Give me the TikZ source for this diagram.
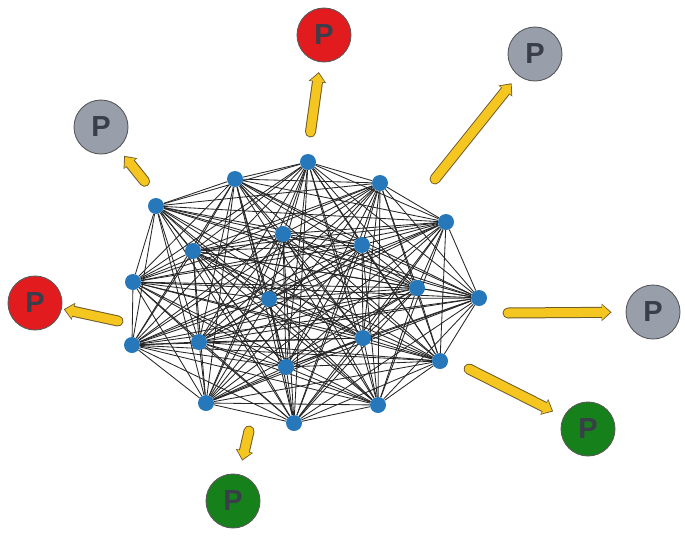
\documentclass[tikz,border=0pt]{standalone}
\usepackage{fontspec}
\setsansfont{Liberation Sans}
\usetikzlibrary{arrows.meta,backgrounds}
\definecolor{nodeblue}{RGB}{38,120,186}
\definecolor{pred}{RGB}{226,28,30}
\definecolor{pgray}{RGB}{152,158,170}
\definecolor{pgreen}{RGB}{22,128,26}
\definecolor{pletter}{RGB}{58,62,74}
\definecolor{arrowyellow}{RGB}{246,198,32}
\definecolor{arrowedge}{RGB}{110,92,40}

\begin{document}
\begin{tikzpicture}[x=1pt,y=-1pt]
  \useasboundingbox (0,0) rectangle (685,536);
  % the mesh of peers
  \begin{scope}[every node/.style={circle,fill=nodeblue,inner sep=0pt,minimum size=16pt}]
    \foreach \n/\x/\y in {1/308/162, 2/235/179, 3/380/183, 4/156/206, 5/446/222,
                          6/283/234, 7/193/251, 8/362/245, 9/133/282, 10/417/288,
                          11/479/298, 12/269/299, 13/132/345, 14/199/342, 15/363/338,
                          16/440/361, 17/286/367, 18/206/403, 19/378/405, 20/294/423}
      \node (n\n) at (\x,\y) {};
  \end{scope}
  \begin{scope}[on background layer]
    \foreach \i in {1,...,19} {
      \pgfmathtruncatemacro{\k}{\i+1}
      \foreach \j in {\k,...,20}
        \path (n\i) edge[draw=black!85, line width=0.85pt] (n\j);
    }
  \end{scope}
  % outside peers
  \begin{scope}[every node/.style={circle,draw=black!65,line width=0.9pt,minimum size=54pt,
      inner sep=0pt,text=pletter,font=\sffamily\bfseries\fontsize{29}{29}\selectfont}]
    \node[fill=pred] (pTop) at (324,35) {P};
    \node[fill=pgray] (pTopRight) at (535,54) {P};
    \node[fill=pgray] (pLeftTop) at (101,127) {P};
    \node[fill=pred] (pLeft) at (35,303) {P};
    \node[fill=pgray] (pRight) at (653,312) {P};
    \node[fill=pgreen] (pLowRight) at (588,429) {P};
    \node[fill=pgreen] (pBottom) at (233,501) {P};
  \end{scope}
  \coordinate (tTop) at (310.5,132);
  \coordinate (tTopRight) at (435,179);
  \coordinate (tLeftTop) at (144.6,181.3);
  \coordinate (tLeft) at (118,321);
  \coordinate (tRight) at (508,313);
  \coordinate (tLowRight) at (469,369);
  \coordinate (tBottom) at (249,431);
  % yellow arrows
  \foreach \tail/\peer/\gap in {tTop/pTop/10, tTopRight/pTopRight/10, tLeftTop/pLeftTop/9.6,
                                tLeft/pLeft/2, tRight/pRight/14, tLowRight/pLowRight/11.6,
                                tBottom/pBottom/14} {
    \pgfmathsetmacro{\inner}{\gap+1.4}
    \draw[arrowedge, line width=11pt, line cap=round,
          -{Triangle[length=10pt,width=17pt]}, shorten >=\gap pt] (\tail) -- (\peer);
    \draw[arrowyellow, line width=9pt, line cap=round,
          -{Triangle[length=8pt,width=14pt]}, shorten >=\inner pt] (\tail) -- (\peer);
  }
\end{tikzpicture}
\end{document}
